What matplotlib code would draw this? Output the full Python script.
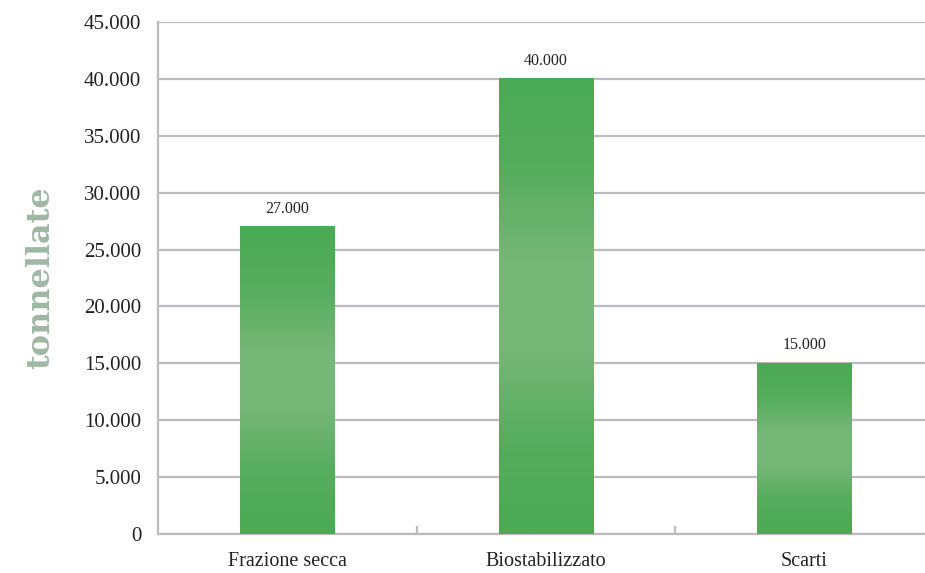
import numpy as np
import matplotlib.pyplot as plt
from matplotlib.colors import LinearSegmentedColormap
from matplotlib.ticker import FuncFormatter, FixedLocator

categories = ['Frazione secca', 'Biostabilizzato', 'Scarti']
values = [27000, 40000, 15000]
y_ticks = list(range(0, 45001, 5000))

grid_col = '#bcbcc0'
text_col = '#222222'

# vertical gradient: darker green at the ends, lighter in the middle
green = LinearSegmentedColormap.from_list(
    'bar_green', ['#4aaa55', '#55ad5d', '#76b677', '#76b677', '#55ad5d', '#4aaa55'])

fig = plt.figure(figsize=(9.25, 5.73), dpi=100)
ax = fig.add_axes([158 / 925, 39 / 573, 775.5 / 925, 512 / 573])

x = np.arange(len(categories))
width = 0.364
grad = np.linspace(0, 1, 256).reshape(-1, 1)
for xi, v in zip(x, values):
    ax.imshow(grad, cmap=green, aspect='auto', origin='upper',
              extent=(xi - width / 2, xi + width / 2, 0, v), zorder=3)
    ax.text(xi, v + 900, f'{v:,}'.replace(',', '.'), ha='center', va='bottom',
            fontsize=11.5, color=text_col, family='Liberation Serif')

ax.set_xlim(-0.5, len(categories) - 0.5)
ax.set_ylim(0, 45000)
ax.set_yticks(y_ticks)
ax.yaxis.set_major_formatter(FuncFormatter(lambda v, p: f'{int(v):,}'.replace(',', '.')))
ax.grid(axis='y', color=grid_col, linewidth=1.6, zorder=0)
ax.set_axisbelow(True)

for s in ['top', 'right']:
    ax.spines[s].set_visible(False)
for s in ['left', 'bottom']:
    ax.spines[s].set_color(grid_col)
    ax.spines[s].set_linewidth(1.6)

ax.set_xticks(x)
ax.set_xticklabels(categories, family='Liberation Serif', fontsize=14.5, color=text_col)
ax.tick_params(axis='x', which='major', length=0, pad=13)
ax.xaxis.set_minor_locator(FixedLocator([0.5, 1.5]))
ax.tick_params(axis='x', which='minor', direction='in', length=6, width=1.6, color=grid_col)
ax.tick_params(axis='y', length=0, pad=12, labelsize=15, labelcolor=text_col)
for lab in ax.get_yticklabels():
    lab.set_family('Liberation Serif')

ax.set_ylabel('tonnellate', family='DejaVu Serif', fontweight='bold', fontsize=23,
              color='#a0b7a4', labelpad=20)

fig.savefig('out.png', dpi=100)
